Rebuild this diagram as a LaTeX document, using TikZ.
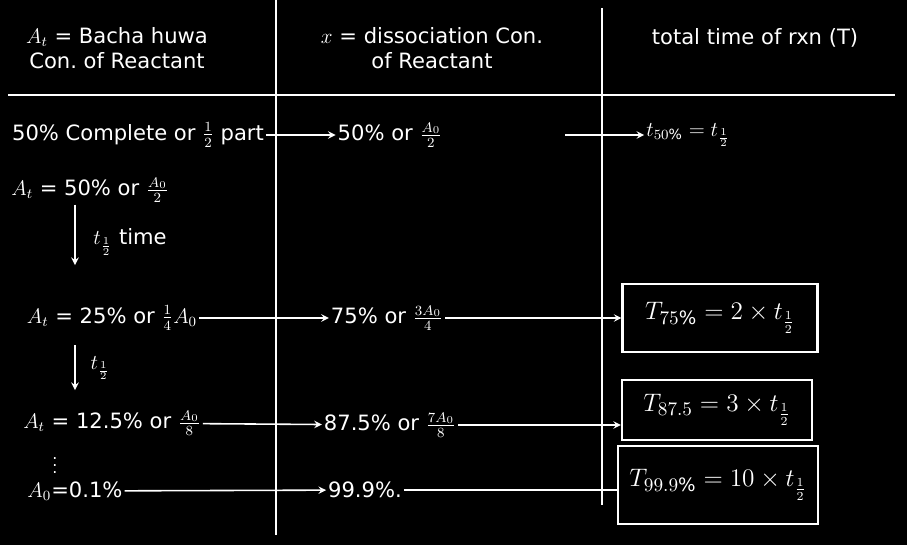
\documentclass[tikz,border=0pt]{standalone}
\usepackage{fontspec}
\setmainfont{DejaVu Sans}
\begin{document}
\begin{tikzpicture}[x=0.02cm, y=-0.02cm,
  txt/.style={text=white, font=\fontsize{12}{14}\selectfont, inner sep=1pt},
  hd/.style={text=white, font=\fontsize{12}{14}\selectfont, align=center, inner sep=1pt},
  rule/.style={white, line width=1pt},
  arr/.style={white, line width=0.9pt, -stealth},
  res/.style={draw=white, line width=1.2pt, text=white, font=\fontsize{15}{17}\selectfont,
              minimum width=3.9cm, minimum height=1.35cm, inner sep=2pt}
]

% --- background and rules ---
\fill[black] (0,0) rectangle (907,545);
\useasboundingbox (0,0) rectangle (907,545);
\draw[rule] (276,0) -- (276,535);
\draw[rule] (602,8) -- (602,505);
\draw[rule] (8,95) -- (895,95);

% --- headers ---
\node[hd] (h1) at (117,48) {$A_t$ = Bacha huwa\\ Con.\ of Reactant};
\node[hd] (h2) at (432,48) {$x$ = dissociation Con.\\ of Reactant};
\node[hd] (h3) at (755,38) {total time of rxn (T)};

% --- row 1 ---
\node[txt] (a1) at (138,135) {50\% Complete or $\frac12$ part};
\node[txt] (b1) at (390,135) {50\% or $\frac{A_0}{2}$};
\node[txt] (c1) at (688,135) {$t_{50\%} = t_{\frac12}$};
\coordinate (s1) at (565,135);
\draw[arr] (a1) -- (b1);
\draw[arr] (s1) -- (c1);

% --- half-life steps ---
\node[txt] (a0) at (90,190) {$A_t$ = 50\% or $\frac{A_0}{2}$};
\node[txt] (d1) at (130,242) {$t_{\frac12}$ time};
\coordinate (d1b) at (75,265);
\draw[arr] (a0.south -| d1b) -- (d1b);

% --- row 2 ---
\node[txt] (a2) at (112,318) {$A_t$ = 25\% or $\frac14 A_0$};
\node[txt] (b2) at (387,318) {75\% or $\frac{3A_0}{4}$};
\node[res] (c2) at (720,318) {$T_{75\%} = 2\times t_{\frac12}$};
\draw[arr] (a2) -- (b2);
\draw[arr] (b2) -- (c2);

\node[txt] (d2) at (100,368) {$t_{\frac12}$};
\coordinate (d2a) at (75,345);
\coordinate (d2b) at (75,390);
\draw[arr] (d2a) -- (d2b);

% --- row 3 ---
\node[txt] (a3) at (112,423) {$A_t$ = 12.5\% or $\frac{A_0}{8}$};
\node[txt] (b3) at (390,425) {87.5\% or $\frac{7A_0}{8}$};
\node[res, minimum width=3.8cm, minimum height=1.2cm] (c3) at (717,410) {$T_{87.5} = 3\times t_{\frac12}$};
\draw[arr] (a3) -- (b3);
\draw[arr] (b3) -- (c3.west |- b3);
\node[txt, inner sep=0pt, font=\fontsize{9}{9}\selectfont] (dots) at (55,460) {$\vdots$};

% --- row 4 ---
\node[txt] (a4) at (75,491) {$A_0$=0.1\%};
\node[txt] (b4) at (365,490) {99.9\%.};
\node[res, minimum width=4cm, minimum height=1.55cm] (c4) at (718,485) {$T_{99.9\%} = 10\times t_{\frac12}$};
\draw[arr] (a4) -- (b4);
\draw[white, line width=0.9pt] (b4) -- (c4.west |- b4);

\end{tikzpicture}
\end{document}
